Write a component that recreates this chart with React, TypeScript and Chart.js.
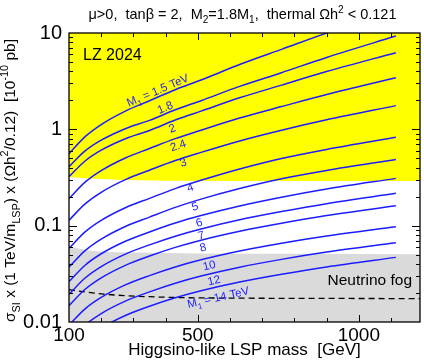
import { useEffect, useRef } from 'react';
import { Chart, registerables } from 'chart.js';

Chart.register(...registerables);

// ---------- data ----------
const massGeV = [100, 150, 200, 275, 350, 430, 510, 630, 760, 900, 1115];

const m1TeV = ['1.5', '1.8', '2', '2.4', '3', '4', '5', '6', '7', '8', '10', '12', '14'];

const sigM1_1p5 = [0.558, 0.839, 1.121, 1.548, 1.98, 2.58, 3.248, 4.71, 6.764, 9.98, 17.38];
const sigM1_1p8 = [0.41, 0.5965, 0.7717, 1.0156, 1.238, 1.595, 1.984, 2.79, 3.874, 5.566, 9.29];
const sigM1_2 = [0.3228, 0.4694, 0.6074, 0.7993, 0.9743, 1.248, 1.544, 2.123, 2.878, 3.978, 6.251];
const sigM1_2p4 = [0.191, 0.2828, 0.3727, 0.5043, 0.6321, 0.8002, 0.9786, 1.309, 1.722, 2.299, 3.427];
const sigM1_3 = [0.1138, 0.1684, 0.222, 0.3004, 0.3764, 0.4739, 0.5763, 0.7582, 0.9797, 1.257, 1.762];
const sigM1_4 = [0.0582, 0.0862, 0.1135, 0.1535, 0.1922, 0.2425, 0.2955, 0.3871, 0.4978, 0.6186, 0.8259];
const sigM1_5 = [0.03715, 0.05499, 0.07244, 0.09795, 0.1227, 0.1548, 0.1886, 0.243, 0.307, 0.3747, 0.4862];
const sigM1_6 = [0.0263, 0.03886, 0.05109, 0.06889, 0.08604, 0.1065, 0.1273, 0.1601, 0.1973, 0.2399, 0.3097];
const sigM1_7 = [0.01936, 0.02859, 0.03758, 0.05064, 0.0632, 0.07775, 0.09238, 0.115, 0.14, 0.1693, 0.2168];
const sigM1_8 = [0.01479, 0.02185, 0.02873, 0.03874, 0.04838, 0.05952, 0.07073, 0.08757, 0.106, 0.1272, 0.161];
const sigM1_10 = [0.009268, 0.01369, 0.018, 0.02428, 0.03032, 0.03726, 0.04421, 0.05456, 0.06577, 0.07817, 0.09747];
const sigM1_12 = [0.00631, 0.009314, 0.01224, 0.01648, 0.02055, 0.02525, 0.02997, 0.03702, 0.04467, 0.05321, 0.0665];
const sigM1_14 = [0.004467, 0.006597, 0.00867, 0.01168, 0.01458, 0.01785, 0.02112, 0.02601, 0.03127, 0.03733, 0.04687];

const curves = [
  sigM1_1p5, sigM1_1p8, sigM1_2, sigM1_2p4, sigM1_3, sigM1_4, sigM1_5,
  sigM1_6, sigM1_7, sigM1_8, sigM1_10, sigM1_12, sigM1_14,
];

// LZ 2024 exclusion boundary (yellow above)
const lzMass = [100, 150, 250, 400, 600, 1190];
const lzLimit = [0.32, 0.31, 0.3, 0.293, 0.291, 0.29];

// Neutrino fog top boundary (grey below)
const fogMass = [100, 150, 200, 300, 500, 800, 1190];
const fogTop = [0.061, 0.056, 0.054, 0.0525, 0.0515, 0.051, 0.0505];

// Neutrino floor (dashed)
const floorMass = [100, 150, 200, 270, 350, 450, 600, 800, 1190];
const floorValue = [0.0217, 0.0205, 0.0196, 0.0188, 0.0183, 0.0179, 0.0177, 0.0176, 0.0175];

// ticks
const xTickValues = [100, 500, 1000];
const xTickText = ['100', '500', '1000'];
const xMinorValues = [200, 300, 400, 500, 600, 700, 800, 900, 1000, 1100];
const xMajorValues = [500, 1000];
const yTickValues = [0.01, 0.1, 1, 10];
const yTickText = ['0.01', '0.1', '1', '10'];
const yDecades = [0.01, 0.1, 1];
const yMinorFactors = [2, 3, 4, 5, 6, 7, 8, 9];

// curve labels (anchor in data coordinates)
const labelMass = [375, 398, 420, 438, 454, 476, 491, 504, 510, 516, 535, 550, 563];
const labelValue = [2.56, 1.7, 1.03, 0.687, 0.458, 0.252, 0.16, 0.109, 0.08, 0.06, 0.0391, 0.0273, 0.01815];

const FONT = "'Liberation Sans', Arial, Helvetica, sans-serif";
const BLUE = 'rgb(28,28,255)';

type Seg = { t: string; s?: 'sub' | 'sup' };

function drawSegs(
  ctx: CanvasRenderingContext2D,
  segs: Seg[],
  x: number,
  y: number,
  size: number,
  align: 'left' | 'center' | 'right'
) {
  ctx.textAlign = 'left';
  ctx.textBaseline = 'alphabetic';
  let w = 0;
  const widths: number[] = [];
  for (const s of segs) {
    ctx.font = `${s.s ? size * 0.7 : size}px ${FONT}`;
    const sw = ctx.measureText(s.t).width;
    widths.push(sw);
    w += sw;
  }
  let cx = align === 'center' ? x - w / 2 : align === 'right' ? x - w : x;
  segs.forEach((s, i) => {
    ctx.font = `${s.s ? size * 0.7 : size}px ${FONT}`;
    const dy = s.s === 'sub' ? size * 0.3 : s.s === 'sup' ? -size * 0.42 : 0;
    ctx.fillText(s.t, cx, y + dy);
    cx += widths[i];
  });
}

function curveAt(vals: number[], m: number) {
  let i = 0;
  while (i < massGeV.length - 2 && m > massGeV[i + 1]) i++;
  const t = (m - massGeV[i]) / (massGeV[i + 1] - massGeV[i]);
  const l = Math.log10(vals[i]) + t * (Math.log10(vals[i + 1]) - Math.log10(vals[i]));
  return Math.pow(10, l);
}

const decor = {
  id: 'decor',
  afterDraw(chart: any) {
    const { ctx, chartArea: a, scales } = chart;
    const xs = scales.x;
    const ys = scales.y;
    ctx.save();

    // curve labels
    ctx.fillStyle = BLUE;
    curves.forEach((vals, i) => {
      const m = labelMass[i];
      const px = xs.getPixelForValue(m);
      const py = ys.getPixelForValue(labelValue[i]);
      const x1 = xs.getPixelForValue(m - 25), y1 = ys.getPixelForValue(curveAt(vals, m - 25));
      const x2 = xs.getPixelForValue(m + 25), y2 = ys.getPixelForValue(curveAt(vals, m + 25));
      const ang = Math.atan2(y2 - y1, x2 - x1);
      const size = 11.5;
      const txt = m1TeV[i];
      const segs: Seg[] =
        i === 0 || i === curves.length - 1
          ? [{ t: 'M' }, { t: '1', s: 'sub' }, { t: ` = ${txt} TeV` }]
          : [{ t: txt }];
      ctx.save();
      ctx.translate(px, py);
      ctx.rotate(ang);
      drawSegs(ctx, segs, 0, size * 0.36, size, 'center');
      ctx.restore();
    });

    // frame
    ctx.strokeStyle = '#000';
    ctx.lineWidth = 1.3;
    ctx.strokeRect(a.left, a.top, a.right - a.left, a.bottom - a.top);

    // inward ticks
    ctx.lineWidth = 1;
    ctx.beginPath();
    for (const v of xMinorValues) {
      const p = Math.round(xs.getPixelForValue(v)) + 0.5;
      const len = xMajorValues.includes(v) ? 7 : 4;
      ctx.moveTo(p, a.bottom);
      ctx.lineTo(p, a.bottom - len);
      ctx.moveTo(p, a.top);
      ctx.lineTo(p, a.top + len);
    }
    for (const d of yDecades) {
      const all = [1, ...yMinorFactors];
      for (const k of all) {
        const v = d * k;
        if (k === 1 && d === 0.01) continue;
        const p = Math.round(ys.getPixelForValue(v)) + 0.5;
        const len = k === 1 ? 8 : 4;
        ctx.moveTo(a.left, p);
        ctx.lineTo(a.left + len, p);
        ctx.moveTo(a.right, p);
        ctx.lineTo(a.right - len, p);
      }
    }
    ctx.stroke();

    // region labels
    ctx.fillStyle = '#000';
    drawSegs(ctx, [{ t: 'LZ 2024' }], a.left + 14, a.top + 27, 16, 'left');
    drawSegs(ctx, [{ t: 'Neutrino fog' }], a.right - 8, 285, 15.5, 'right');

    // top title
    drawSegs(
      ctx,
      [
        { t: 'μ>0,  tanβ = 2,  M' }, { t: '2', s: 'sub' }, { t: '=1.8M' }, { t: '1', s: 'sub' },
        { t: ',  thermal Ωh' }, { t: '2', s: 'sup' }, { t: ' < 0.121' },
      ],
      (a.left + a.right) / 2 - 2,
      19,
      14.5,
      'center'
    );

    // x title
    drawSegs(ctx, [{ t: 'Higgsino-like LSP mass  [GeV]' }], (a.left + a.right) / 2, 355, 17, 'center');

    // y title
    ctx.save();
    ctx.translate(15, (a.top + a.bottom) / 2 + 3);
    ctx.rotate(-Math.PI / 2);
    drawSegs(
      ctx,
      [
        { t: 'σ' }, { t: 'SI', s: 'sub' }, { t: ' x (1 TeV/m' }, { t: 'LSP', s: 'sub' },
        { t: ') x (Ωh' }, { t: '2', s: 'sup' }, { t: '/0.12)  [10' }, { t: '-10', s: 'sup' }, { t: ' pb]' },
      ],
      0,
      0,
      15.5,
      'center'
    );
    ctx.restore();

    ctx.restore();
  },
};

export default function App() {
  const ref = useRef<HTMLCanvasElement>(null);

  useEffect(() => {
    const pts = (xs: number[], ys: number[]) => xs.map((x, i) => ({ x, y: ys[i] }));
    const datasets: any[] = [
      {
        label: 'LZ 2024',
        data: pts(lzMass, lzLimit),
        borderWidth: 0,
        borderColor: 'rgba(0,0,0,0)',
        backgroundColor: '#ffff00',
        pointRadius: 0,
        fill: 'end',
        order: 20,
      },
      {
        label: 'Neutrino fog',
        data: pts(fogMass, fogTop),
        borderWidth: 0,
        borderColor: 'rgba(0,0,0,0)',
        backgroundColor: '#dadada',
        pointRadius: 0,
        fill: 'start',
        cubicInterpolationMode: 'monotone',
        order: 19,
      },
      {
        label: 'Neutrino floor',
        data: pts(floorMass, floorValue),
        borderColor: '#000',
        borderWidth: 1.3,
        borderDash: [6, 4],
        pointRadius: 0,
        fill: false,
        cubicInterpolationMode: 'monotone',
        order: 5,
      },
      ...curves.map((vals, i) => ({
        label: `M1 = ${m1TeV[i]} TeV`,
        data: pts(massGeV, vals),
        borderColor: BLUE,
        borderWidth: 1.5,
        pointRadius: 0,
        fill: false,
        cubicInterpolationMode: 'monotone',
        order: 0,
      })),
    ];

    const chart = new Chart(ref.current as HTMLCanvasElement, {
      type: 'line',
      data: { datasets },
      options: {
        animation: false,
        responsive: false,
        devicePixelRatio: 1,
        events: [],
        layout: { padding: { left: 0, top: 33, right: 4, bottom: 0 } },
        plugins: {
          legend: { display: false },
          tooltip: { enabled: false },
          filler: { drawTime: 'beforeDatasetsDraw' },
        } as any,
        scales: {
          x: {
            type: 'linear',
            min: 100,
            max: 1190,
            grid: { display: false, drawTicks: false },
            border: { display: false },
            afterBuildTicks: (s: any) => {
              s.ticks = xTickValues.map((v) => ({ value: v }));
            },
            afterFit: (s: any) => {
              s.height = 39;
            },
            ticks: {
              padding: 2,
              maxRotation: 0,
              autoSkip: false,
              color: '#000',
              font: { family: FONT, size: 19 },
              callback: (_v: any, i: number) => xTickText[i],
            },
          },
          y: {
            type: 'logarithmic',
            min: 0.01,
            max: 10,
            grid: { display: false, drawTicks: false },
            border: { display: false },
            afterBuildTicks: (s: any) => {
              s.ticks = yTickValues.map((v) => ({ value: v }));
            },
            afterFit: (s: any) => {
              s.width = 69;
            },
            ticks: {
              padding: 7,
              autoSkip: false,
              color: '#000',
              font: { family: FONT, size: 20 },
              callback: (_v: any, i: number) => yTickText[i],
            },
          },
        },
      },
      plugins: [decor],
    });
    return () => chart.destroy();
  }, []);

  return (
    <div style={{ position: 'absolute', left: 0, top: 0, width: 424, height: 361, background: '#fff' }}>
      <canvas ref={ref} width={424} height={361} style={{ width: 424, height: 361, display: 'block' }} />
    </div>
  );
}
